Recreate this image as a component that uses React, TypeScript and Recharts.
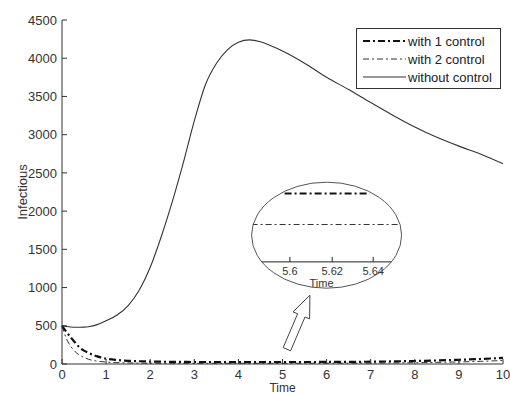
import React from 'react';
import { LineChart, Line, XAxis, YAxis, ReferenceDot, Legend } from 'recharts';

const time = [0, 0.1, 0.2, 0.3, 0.4, 0.5, 0.6, 0.8, 1, 1.25, 1.5, 1.75, 2, 2.25, 2.5, 2.75, 3, 3.25, 3.5, 3.75, 4, 4.25, 4.5, 4.75, 5, 5.5, 6, 6.5, 7, 7.5, 8, 8.5, 9, 9.5, 10];
const withOneControl = [500, 420, 345, 280, 215, 175, 145, 100, 70, 52, 42, 36, 32, 30, 28, 27, 26, 26, 25, 25, 25, 25, 25, 25, 26, 26, 27, 28, 30, 34, 39, 46, 55, 66, 80];
const withTwoControl = [500, 330, 230, 160, 115, 85, 62, 38, 25, 18, 14, 12, 10, 10, 9, 9, 9, 9, 9, 9, 9, 9, 9, 9, 9, 10, 10, 11, 12, 14, 17, 21, 27, 35, 45];
const withoutControl = [500, 490, 483, 480, 480, 482, 488, 515, 565, 640, 765, 965, 1265, 1665, 2120, 2630, 3180, 3650, 3930, 4110, 4210, 4240, 4215, 4160, 4095, 3935, 3750, 3590, 3420, 3255, 3100, 2965, 2850, 2745, 2620];

const seriesNames = ['with 1 control', 'with 2 control', 'without control'];
const xTicks = [0, 1, 2, 3, 4, 5, 6, 7, 8, 9, 10];
const yTicks = [0, 500, 1000, 1500, 2000, 2500, 3000, 3500, 4000, 4500];
const insetTicks = ['5.6', '5.62', '5.64'];
const insetCenter = { x: 6.0, y: 1685 };

const data = time.map((t, i) => ({
  t,
  with1: withOneControl[i],
  with2: withTwoControl[i],
  without: withoutControl[i],
}));

const FONT = '"Liberation Sans", Arial, sans-serif';
const AX = '#333';
const DASH1 = '7 3 2 3';
const DASH2 = '6 3 2 3';

const legendStyles = [
  { w: 2.2, dash: DASH1, color: '#111' },
  { w: 1, dash: DASH2, color: '#333' },
  { w: 1, dash: undefined as string | undefined, color: '#333' },
];

const LegendBox = () => {
  const ys = [13, 31, 49];
  return (
    <div style={{ width: 145, height: 61, border: '1px solid #333', background: '#fff', boxSizing: 'border-box', position: 'relative' }}>
      <svg width={145} height={61} style={{ position: 'absolute', left: -1, top: -1 }}>
        {seriesNames.map((n, i) => (
          <g key={n}>
            <line x1={7} x2={50} y1={ys[i]} y2={ys[i]} stroke={legendStyles[i].color} strokeWidth={legendStyles[i].w} strokeDasharray={legendStyles[i].dash} />
            <text x={52} y={ys[i]} dy="0.35em" fontFamily={FONT} fontSize={13} fill="#222">{n}</text>
          </g>
        ))}
      </svg>
    </div>
  );
};

const Inset = (props: any) => {
  const { cx, cy } = props;
  if (cx == null || cy == null) return null;
  const rx = 75;
  const ry = 53;
  const tickX = [-36.7, 5.6, 46.6];
  const axisY = cy + 26.7;
  const arrow = [
    [-16.7, 60], [-17, 83.7], [-21.6, 81.8], [-36, 115.6], [-43.4, 112.4], [-29, 78.6], [-33.6, 76.7],
  ].map(([dx, dy]) => `${cx + dx},${cy + dy}`).join(' ');
  return (
    <g>
      <defs>
        <clipPath id="insetClip">
          <ellipse cx={cx} cy={cy} rx={rx} ry={ry} />
        </clipPath>
      </defs>
      <ellipse cx={cx} cy={cy} rx={rx} ry={ry} fill="#fff" stroke="#555" strokeWidth={1} />
      <g clipPath="url(#insetClip)">
        <line x1={cx - 42} x2={cx + 42} y1={cy - 41.7} y2={cy - 41.7} stroke="#111" strokeWidth={2.2} strokeDasharray={DASH1} />
        <line x1={cx - rx} x2={cx + rx} y1={cy - 10.7} y2={cy - 10.7} stroke="#333" strokeWidth={1} strokeDasharray={DASH2} />
        <line x1={cx - rx} x2={cx + rx} y1={axisY} y2={axisY} stroke="#222" strokeWidth={1} />
        {tickX.map((dx, i) => (
          <line key={i} x1={cx + dx} x2={cx + dx} y1={axisY} y2={axisY - 5} stroke="#222" />
        ))}
      </g>
      {tickX.map((dx, i) => (
        <text key={i} x={cx + dx} y={cy + 36} dy="0.35em" textAnchor="middle" fontFamily={FONT} fontSize={11} fill="#333">{insetTicks[i]}</text>
      ))}
      <text x={cx - 5} y={cy + 48} dy="0.35em" textAnchor="middle" fontFamily={FONT} fontSize={11} fill="#333">Time</text>
      <polygon points={arrow} fill="#fff" stroke="#444" strokeWidth={1} />
    </g>
  );
};

export default function App() {
  return (
    <div style={{ width: 510, height: 394 }}>
      <style>{`body{margin:0}`}</style>
      <LineChart width={510} height={394} data={data} margin={{ top: 20, right: 7, bottom: 0, left: 0 }}>
        <XAxis
          dataKey="t"
          type="number"
          domain={[0, 10]}
          ticks={xTicks}
          height={30}
          stroke={AX}
          tickSize={-5}
          tickMargin={11}
          tick={{ fill: '#333', fontSize: 13, fontFamily: FONT }}
          tickLine={{ stroke: AX }}
          label={{
            content: (p: any) => {
              const vb = p.viewBox || {};
              return (
                <text x={vb.x + vb.width / 2} y={392} textAnchor="middle" fontFamily={FONT} fontSize={12} fill="#333">Time</text>
              );
            },
          }}
        />
        <XAxis xAxisId="top" orientation="top" dataKey="t" type="number" domain={[0, 10]} ticks={xTicks} height={0} stroke={AX} tickSize={-5} tickFormatter={() => ''} />
        <YAxis
          type="number"
          domain={[0, 4500]}
          ticks={yTicks}
          width={62}
          stroke={AX}
          tickSize={-5}
          tickMargin={10}
          tick={{ fill: '#333', fontSize: 13, fontFamily: FONT }}
          tickLine={{ stroke: AX }}
          label={{
            content: (p: any) => {
              const vb = p.viewBox || {};
              const x = 22;
              const y = vb.y + vb.height / 2;
              return (
                <text x={x} y={y} transform={`rotate(-90, ${x}, ${y})`} dy="0.35em" textAnchor="middle" fontFamily={FONT} fontSize={13} fill="#333">Infectious</text>
              );
            },
          }}
        />
        <YAxis yAxisId="right" orientation="right" type="number" domain={[0, 4500]} ticks={yTicks} width={0} stroke={AX} tickSize={-5} tickFormatter={() => ''} />
        <Line type="monotone" dataKey="without" name={seriesNames[2]} stroke="#333" strokeWidth={1.1} dot={false} isAnimationActive={false} />
        <Line type="monotone" dataKey="with2" name={seriesNames[1]} stroke="#333" strokeWidth={1} strokeDasharray={DASH2} dot={false} isAnimationActive={false} />
        <Line type="monotone" dataKey="with1" name={seriesNames[0]} stroke="#111" strokeWidth={2.2} strokeDasharray={DASH1} dot={false} isAnimationActive={false} />
        <ReferenceDot x={insetCenter.x} y={insetCenter.y} r={1} shape={Inset} ifOverflow="visible" />
        <Legend layout="vertical" align="center" verticalAlign="middle" wrapperStyle={{ top: 28, left: 356, width: 145 }} content={() => <LegendBox />} />
      </LineChart>
    </div>
  );
}
